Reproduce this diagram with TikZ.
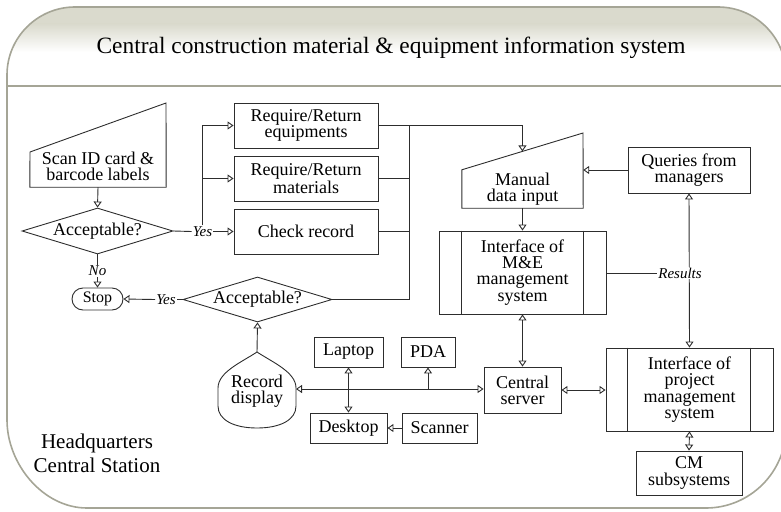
\documentclass[tikz,border=0pt]{standalone}
\usepackage{fontspec}
\setmainfont{Liberation Serif}
\usetikzlibrary{arrows.meta,shapes.geometric,calc}
\definecolor{frm}{RGB}{165,165,150}
\definecolor{hdr}{RGB}{218,218,205}
\definecolor{ink}{RGB}{45,45,45}
\newcommand\myboxfont{\fontsize{18}{16.2}\selectfont}
\newcommand\mylblfont{\fontsize{15}{15}\selectfont\itshape}
\tikzset{
  box/.style={draw=ink, line width=0.9pt, rectangle, inner sep=0pt, align=center, font=\myboxfont, text=black},
  plain/.style={rectangle, inner sep=0pt, align=center, font=\myboxfont, text=black},
  dia/.style={draw=ink, line width=0.9pt, diamond, aspect=3.3, inner sep=0pt, align=center, font=\myboxfont, text=black},
  ln/.style={draw=ink, line width=0.9pt},
  arr/.style={ln, -{Triangle[open,length=6pt,width=8pt]}},
  darr/.style={ln, {Triangle[open,length=6pt,width=8pt]}-{Triangle[open,length=6pt,width=8pt]}},
  lbl/.style={font=\mylblfont, inner sep=1pt, fill=white, text=black},
  frame/.style={draw=frm, line width=1.6pt}
}
\begin{document}
\begin{tikzpicture}[x=1pt,y=-1pt]
\useasboundingbox (0,0) rectangle (781,511);
\clip (0,0) rectangle (781,511);
% header shading
\begin{scope}
\clip (7,86) -- (7,75) .. controls (7,37.4) and (37.6,7) .. (75,7) -- (718,7) .. controls (755.6,7) and (786,37.4) .. (786,75) -- (786,86) -- cycle;
\fill[hdr] (0,0) rectangle (781,24);
\shade[top color=hdr, bottom color=white] (0,24) rectangle (781,52);
\end{scope}
% frame
\draw[frame] (7,250) -- (7,75) .. controls (7,37.4) and (37.6,7) .. (75,7) -- (718,7) .. controls (755.6,7) and (786,37.4) .. (786,75) -- (786,428) .. controls (786,472) and (750,508) .. (706,508) -- (87,508) .. controls (43,508) and (7,464) .. (7,420) -- cycle;
\draw[frame] (7,86) -- (786,86);
\node[anchor=base, inner sep=0pt, font=\fontsize{23.4}{23.4}\selectfont] (title) at (391,53) {Central construction material \& equipment information system};
\node[align=center, inner sep=0pt, font=\fontsize{21}{24}\selectfont] (hq) at (97,453) {Headquarters\\Central Station};

% scan ID (manual input shape)
\node[plain, minimum width=136pt, minimum height=42pt] (scan) at (98,166) {Scan ID card \&\\barcode labels};
\draw[ln] (scan.south west) -- (scan.south east) -- (166,103) -- (30,152) -- cycle;
\node[dia, minimum width=151pt, minimum height=46pt] (acc1) at (97.5,231) {Acceptable?};
\node[box, minimum width=51pt, minimum height=22pt, rounded corners=11pt, font=\fontsize{16}{16}\selectfont] (stop) at (97.5,299) {Stop};

\node[box, minimum width=144pt, minimum height=45pt] (req1) at (306,125.5) {Require/Return\\equipments};
\node[box, minimum width=144pt, minimum height=45pt] (req2) at (306,178.5) {Require/Return\\materials};
\node[box, minimum width=144pt, minimum height=45pt] (check) at (306,231.5) {Check record};
\node[dia, minimum width=149pt, minimum height=45pt] (acc2) at (257.5,299.5) {Acceptable?};

% record display
\node[plain, minimum width=78pt, minimum height=40pt] (rd) at (257,391) {Record\\display};
\coordinate (rdn) at (257,352);
\coordinate (rde) at (296,389);
\draw[ln] (rdn) .. controls (272,362) and (296,372) .. (296,388) -- (296,406) .. controls (296,420) and (280,428) .. (257,428) .. controls (234,428) and (218,420) .. (218,406) -- (218,388) .. controls (218,372) and (242,362) .. (rdn) -- cycle;

\node[box, minimum width=69pt, minimum height=30pt] (laptop) at (348.5,352) {Laptop};
\node[box, minimum width=54pt, minimum height=30pt] (pda) at (428,352) {PDA};
\node[box, minimum width=77pt, minimum height=30pt] (desktop) at (348.5,428) {Desktop};
\node[box, minimum width=75pt, minimum height=30pt] (scanner) at (439.5,428) {Scanner};
\node[box, minimum width=77pt, minimum height=46pt] (server) at (522.5,390) {Central\\server};

% manual data input
\node[plain, minimum width=121pt, minimum height=38pt] (mdi) at (522.5,189) {Manual\\data input};
\draw[ln] (mdi.south west) -- (mdi.south east) -- (583,133) -- (mdi.north west) -- cycle;
\coordinate (mdit) at ($(mdi.north west)!0.5!(583,133)$);

\node[box, minimum width=167pt, minimum height=83pt] (ime) at (522.5,272.5) {Interface of\\M\&E\\management\\system};
\draw[ln] ([xshift=23pt]ime.north west) -- ([xshift=23pt]ime.south west);
\draw[ln] ([xshift=-23pt]ime.north east) -- ([xshift=-23pt]ime.south east);
\node[box, minimum width=122pt, minimum height=46pt] (qm) at (689,170) {Queries from\\managers};
\node[box, minimum width=167pt, minimum height=83pt] (ipm) at (689.5,389.5) {Interface of\\project\\management\\system};
\draw[ln] ([xshift=22pt]ipm.north west) -- ([xshift=22pt]ipm.south west);
\draw[ln] ([xshift=-23pt]ipm.north east) -- ([xshift=-23pt]ipm.south east);
\node[box, minimum width=106pt, minimum height=44pt] (cm) at (689,473) {CM\\subsystems};

% connectors left part
\draw[arr] (scan.south) -- (acc1.north);
\draw[arr] (acc1.south) -- node[lbl]{No} (stop.north);
\node[lbl] (yes1) at (202.5,231.5) {Yes};
\draw[ln] (acc1.east) -- (yes1.west);
\draw[arr] (yes1.east) -- (check.west);
\draw[arr] (yes1.north) |- (req1.west);
\draw[arr] (yes1.north |- req2.west) -- (req2.west);
\node[lbl] (yes2) at (166,299.5) {Yes};
\draw[ln] (acc2.west) -- (yes2.east);
\draw[arr] (yes2.west) -- (stop.east);
\coordinate (bus) at (409,125.5);
\draw[arr] (req1.east) -- (req1.east -| mdit) -- (mdit);
\draw[ln] (req2.east) -- (req2.east -| bus);
\draw[ln] (check.east) -- (check.east -| bus);
\draw[ln] (acc2.east) -| (bus);
\draw[arr] (rdn) -- (acc2.south);

% lower middle
\draw[darr] (rde) -- (rde -| server.west);
\draw[arr] (pda.south |- rde) -- (pda.south);
\draw[darr] (laptop.south) -- (laptop.south |- desktop.north);
\draw[arr] (scanner.west) -- (desktop.east);

% right part
\draw[arr] (mdi.south) -- (ime.north);
\draw[darr] (ime.south) -- (server.north);
\draw[arr] (qm.west) -- (qm.west -| mdi.east);
\draw[darr] (qm.south) -- (ipm.north);
\node[lbl] (res) at (680,273) {Results};
\draw[ln] (ime.east |- res) -- (res.west);
\draw[darr] (server.east) -- (server.east -| ipm.west);
\draw[darr] (ipm.south) -- (cm.north);
\end{tikzpicture}
\end{document}
